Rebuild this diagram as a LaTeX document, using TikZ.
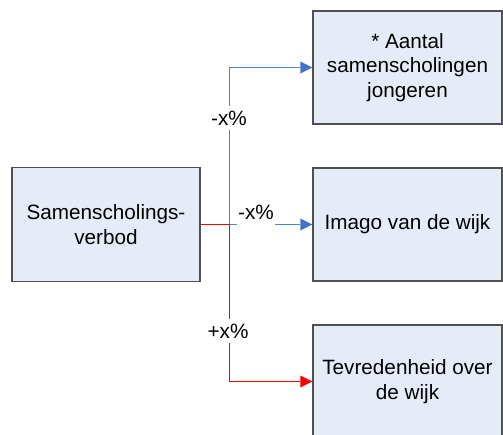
\documentclass[tikz,border=0pt]{standalone}
\usepackage{fontspec}
\setmainfont{Liberation Sans}
\usetikzlibrary{arrows.meta}
\definecolor{boxfill}{RGB}{230,236,247}
\definecolor{boxline}{RGB}{80,80,80}
\definecolor{lineblue}{RGB}{80,130,210}
\definecolor{tipblue}{RGB}{68,114,196}
\tikzset{
  box/.style={draw=boxline, line width=1.1pt, fill=boxfill, minimum width=189pt, minimum height=113pt, align=center, inner sep=2pt, font=\fontsize{20.7}{24.5}\selectfont},
  lbl/.style={fill=white, inner xsep=1pt, inner ysep=5pt, font=\fontsize{20.7}{24}\selectfont},
  bluearrow/.style={draw=lineblue, line width=1.1pt, -{Triangle[length=12pt,width=12pt,fill=tipblue,line width=0pt]}},
  redline/.style={draw=red, line width=1.1pt},
  redarrow/.style={draw=red, line width=1.1pt, -{Triangle[length=12pt,width=12pt,fill=red,line width=0pt]}}
}
\begin{document}
\begin{tikzpicture}[x=1pt,y=-1pt]
\clip (0,0) rectangle (503,434);
\useasboundingbox (0,0) rectangle (503,434);
\node[box, minimum width=188pt, minimum height=114pt] (S) at (106,224.5) {Samenscholings-\\verbod};
\node[box] (A) at (407.5,67.5) {* Aantal\\samenscholingen\\jongeren};
\node[box] (B) at (407.5,224.5) {Imago van de wijk};
\node[box] (C) at (407.5,381.5) {Tevredenheid over\\de wijk};
\coordinate (j) at (229.5,224.5);
\draw[bluearrow] (j) |- (A.west);
\draw[bluearrow] (j) -- (B.west);
\draw[redline] (S.east) -- (j);
\draw[redarrow] (j) |- (C.west);
\node[lbl] (l1) at (229,118) {-x\%};
\node[lbl, inner ysep=7pt] (l2) at (256,212) {-x\%};
\node[lbl] (l3) at (228,331) {+x\%};
\end{tikzpicture}
\end{document}
